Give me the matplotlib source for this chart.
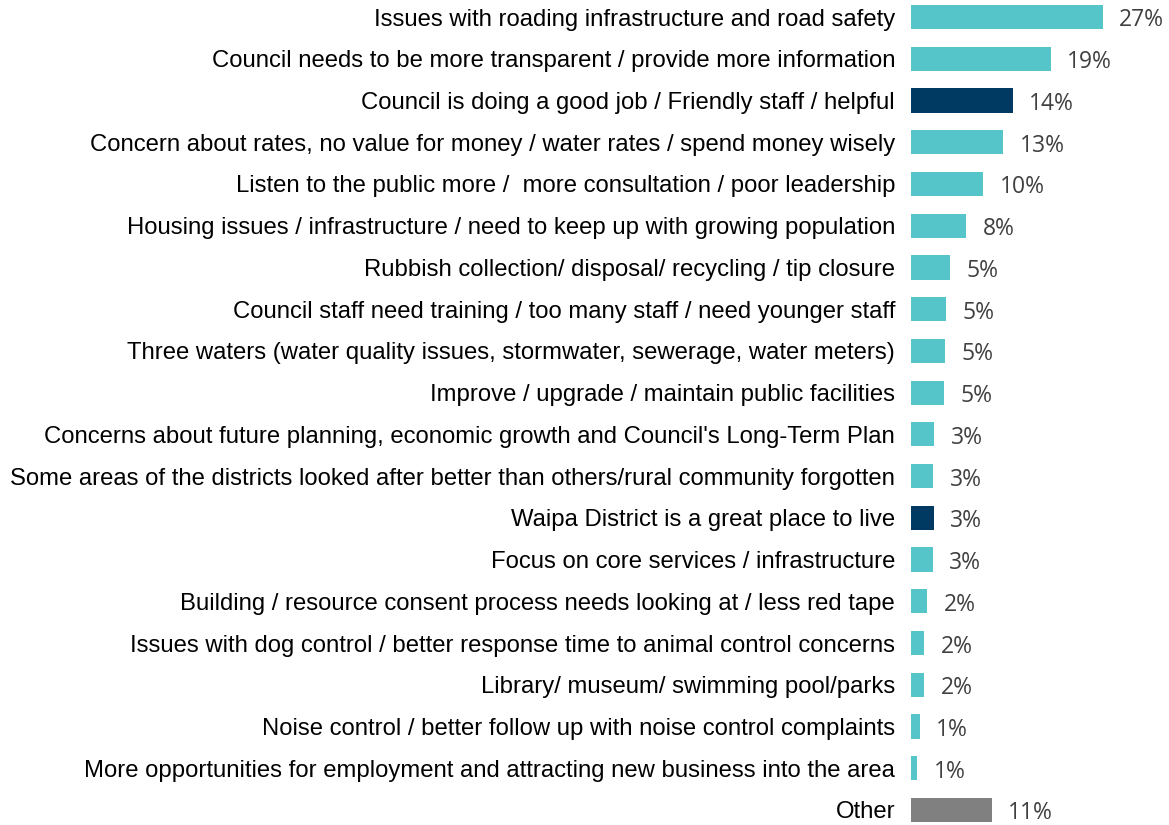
import matplotlib
matplotlib.use('Agg')
from matplotlib import pyplot as plt

categories = [
    'Issues with roading infrastructure and road safety',
    'Council needs to be more transparent / provide more information',
    'Council is doing a good job / Friendly staff / helpful',
    'Concern about rates, no value for money / water rates / spend money wisely',
    'Listen to the public more /  more consultation / poor leadership',
    'Housing issues / infrastructure / need to keep up with growing population',
    'Rubbish collection/ disposal/ recycling / tip closure',
    'Council staff need training / too many staff / need younger staff',
    'Three waters (water quality issues, stormwater, sewerage, water meters)',
    'Improve / upgrade / maintain public facilities',
    "Concerns about future planning, economic growth and Council's Long-Term Plan",
    'Some areas of the districts looked after better than others/rural community forgotten',
    'Waipa District is a great place to live',
    'Focus on core services / infrastructure',
    'Building / resource consent process needs looking at / less red tape',
    'Issues with dog control / better response time to animal control concerns',
    'Library/ museum/ swimming pool/parks',
    'Noise control / better follow up with noise control complaints',
    'More opportunities for employment and attracting new business into the area',
    'Other',
]
values = [26.6, 19.4, 14.1, 12.8, 10.0, 7.6, 5.4, 4.8, 4.7, 4.6,
          3.2, 3.1, 3.15, 3.0, 2.2, 1.8, 1.8, 1.2, 0.8, 11.2]
labels = ['27%', '19%', '14%', '13%', '10%', '8%', '5%', '5%', '5%', '5%',
          '3%', '3%', '3%', '3%', '2%', '2%', '2%', '1%', '1%', '11%']
positive = [2, 12]  # navy bars

teal = '#56C5C9'
navy = '#003A63'
grey = '#808080'
colors = []
for i in range(len(values)):
    if i in positive:
        colors.append(navy)
    elif categories[i] == 'Other':
        colors.append(grey)
    else:
        colors.append(teal)

fig = plt.figure(figsize=(11.69, 8.25), dpi=100)
ax = fig.add_axes([911 / 1169, 0, 258 / 1169, 1])

y = list(range(len(values)))
ax.barh(y, values, height=0.58, color=colors)
ax.set_xlim(0, 258 / 7.2)
ax.set_ylim(19 + 15 / 41.7, -17 / 41.7)

ax.set_yticks(y)
ax.set_yticklabels(categories, fontsize=17.2, family='Liberation Sans', color='black')
ax.tick_params(axis='y', length=0, pad=11.5)
ax.set_xticks([])
for s in ax.spines.values():
    s.set_visible(False)

for i, v in enumerate(values):
    ax.annotate(labels[i], (v, i), xytext=(12, -2.5), textcoords='offset points',
                va='center', ha='left', fontsize=16.5, family='Open Sans', color='#404040')

fig.savefig('out.png', dpi=100)
